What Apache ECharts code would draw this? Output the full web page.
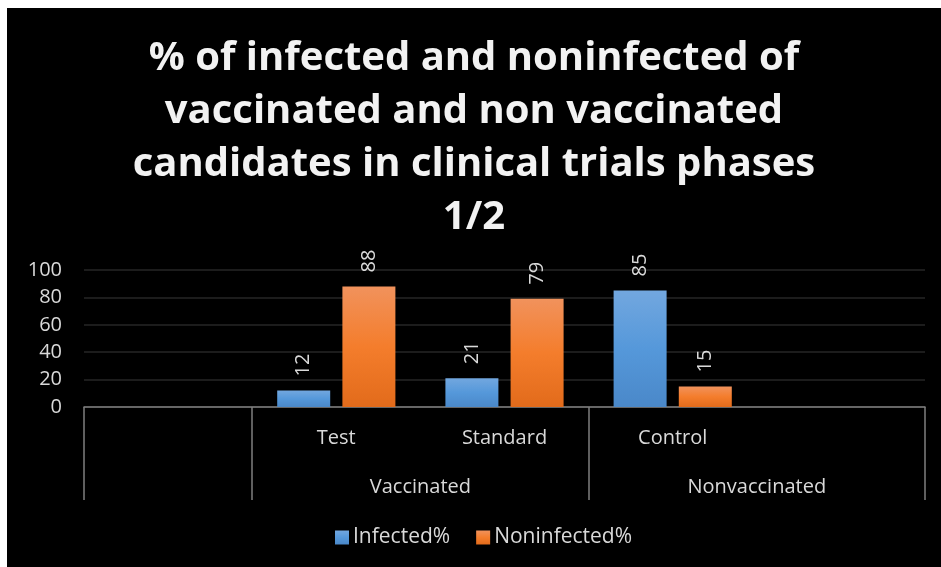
<!DOCTYPE html>
<html>
<head>
<meta charset="utf-8">
<script src="https://cdn.jsdelivr.net/npm/echarts@6/dist/echarts.min.js"></script>
<style>
  html, body { margin: 0; padding: 0; background: #fff; }
  #chart { position: absolute; left: 7px; top: 8px; width: 934px; height: 559px; background: #000; }
</style>
</head>
<body>
<div id="chart"></div>
<script>
// data
var categories = ['', 'Test', 'Standard', 'Control', ''];
var groupLabels = ['', '', '', '', 'Vaccinated', '', '', '', 'Nonvaccinated', '', ''];
var infected = [null, 12, 21, 85, null];
var noninfected = [null, 88, 79, 15, null];
var yTicks = { min: 0, max: 100, step: 20 };

var textColor = '#d9d9d9';
var lineColor = '#7f7f7f';
var font = '"Open Sans", sans-serif';

var chart = echarts.init(document.getElementById('chart'));

function barLabel ()
{
  return {
    show: true,
    position: 'top',
    rotate: 90,
    align: 'left',
    verticalAlign: 'middle',
    distance: 14,
    color: textColor,
    fontFamily: font,
    fontSize: 20
  };
}

var option = {
  backgroundColor: '#000',
  animation: false,
  title: {
    text: '% of infected and noninfected of\nvaccinated and non vaccinated\ncandidates in clinical trials phases\n1/2',
    left: 'center',
    top: 19,
    textStyle: {
      color: '#f2f2f2',
      fontFamily: font,
      fontWeight: 'bold',
      fontSize: 40,
      lineHeight: 53
    }
  },
  legend: {
    left: 323,
    top: 514,
    itemWidth: 14,
    itemHeight: 14,
    itemGap: 26,
    icon: 'rect',
    textStyle: { color: textColor, fontFamily: font, fontSize: 21, padding: [0, 0, 0, -1] },
    data: ['Infected%', 'Noninfected%']
  },
  grid: {
    left: 77,
    right: 16,
    top: 262,
    bottom: 160,
    containLabel: false
  },
  xAxis: [
    {
      type: 'category',
      data: categories,
      axisLine: { show: true, lineStyle: { color: lineColor, width: 1.5 } },
      axisTick: { show: false },
      axisLabel: { color: textColor, fontFamily: font, fontSize: 20, margin: 21, interval: 0 }
    },
    {
      type: 'category',
      data: groupLabels,
      position: 'bottom',
      boundaryGap: false,
      axisLine: { show: false },
      axisTick: {
        show: true,
        length: 93,
        interval: function (i)
        {
          return i === 0 || i === 2 || i === 6 || i === 10;
        },
        lineStyle: { color: lineColor, width: 1.5 }
      },
      axisLabel: { color: textColor, fontFamily: font, fontSize: 20, margin: 70, interval: 0 }
    }
  ],
  yAxis: {
    type: 'value',
    min: yTicks.min,
    max: yTicks.max,
    interval: yTicks.step,
    axisLine: { show: false },
    axisTick: { show: false },
    axisLabel: { color: textColor, fontFamily: font, fontSize: 20, margin: 22 },
    splitLine: { lineStyle: { color: '#262626', width: 1.5 } }
  },
  series: [
    {
      name: 'Infected%',
      type: 'bar',
      data: infected,
      barWidth: 53,
      barGap: '23%',
      itemStyle: {
        color: new echarts.graphic.LinearGradient(0, 0, 0, 1, [
          { offset: 0, color: '#72a7df' },
          { offset: 0.5, color: '#5598da' },
          { offset: 1, color: '#4a88c9' }
        ])
      },
      label: barLabel()
    },
    {
      name: 'Noninfected%',
      type: 'bar',
      data: noninfected,
      barWidth: 53,
      itemStyle: {
        color: new echarts.graphic.LinearGradient(0, 0, 0, 1, [
          { offset: 0, color: '#f1925c' },
          { offset: 0.5, color: '#f47d2c' },
          { offset: 1, color: '#e26b1b' }
        ])
      },
      label: barLabel()
    }
  ]
};

chart.setOption(option);
</script>
</body>
</html>
